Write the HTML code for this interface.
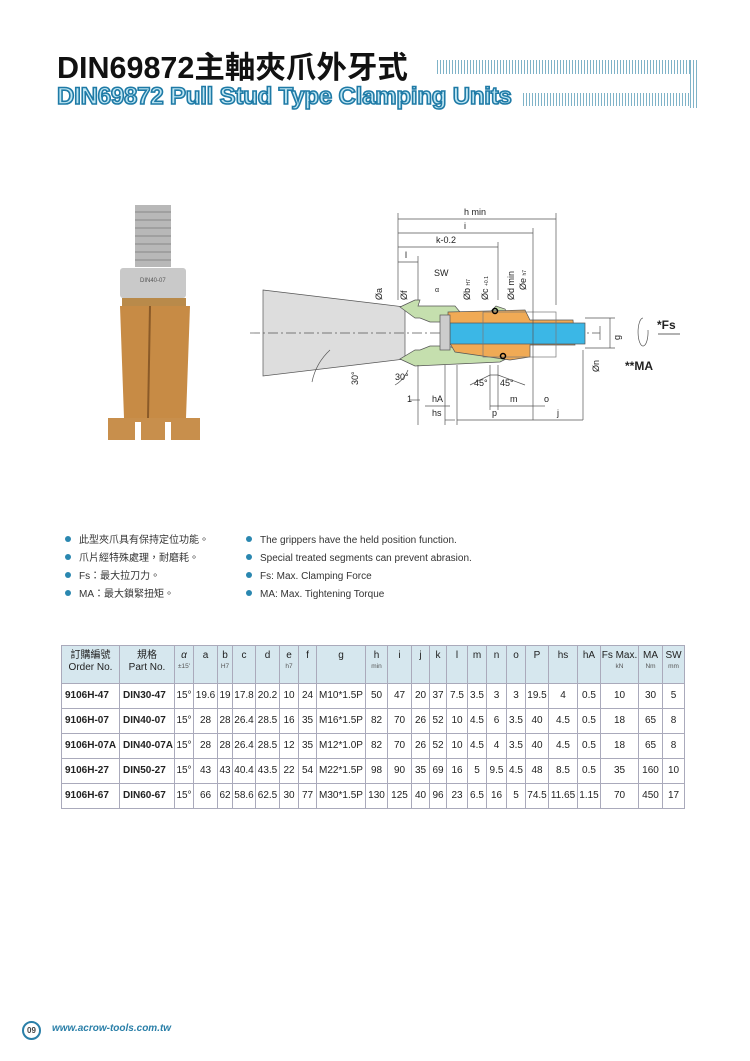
<!DOCTYPE html>
<html><head><meta charset="utf-8">
<style>
body{margin:0;width:750px;height:1061px;background:#fff;position:relative;font-family:"Liberation Sans","Noto Sans CJK TC",sans-serif;overflow:hidden}
.abs{position:absolute}
.t1{left:57px;top:43px;font-size:30.5px;font-weight:bold;color:#111;white-space:nowrap}
.t2{left:57px;top:83px;font-size:24px;font-weight:bold;color:#bfe6f3;-webkit-text-stroke:1.6px #1e7aa6;white-space:nowrap;letter-spacing:-0.2px}
.lines{background:repeating-linear-gradient(90deg,#7fb3c8 0 1px,transparent 1px 3px)}
.bul{font-size:10px;color:#333;white-space:nowrap;line-height:14px;height:14px}
.bul span{display:inline-block;width:6px;height:6px;border-radius:50%;background:#2a87b0;margin-right:8px;vertical-align:1px}
table{position:absolute;left:61px;top:645px;border-collapse:collapse;font-size:10px;color:#222;table-layout:fixed}
td{border:1px solid #aab;text-align:center;padding:0;height:24px;white-space:nowrap;line-height:12px}
tr.h td{background:#d6e7ee;height:33px;vertical-align:top;padding-top:4px;line-height:12px}
small{font-size:6.5px;color:#555;display:block;line-height:9px}
td.b{font-weight:bold;text-align:left;padding-left:3px}
</style></head><body>
<div class="abs t1">DIN69872主軸夾爪外牙式</div>
<div class="abs lines" style="left:437px;top:60px;width:255px;height:14px"></div>
<div class="abs lines" style="left:690px;top:60px;width:8px;height:48px"></div>
<div class="abs t2">DIN69872 Pull Stud Type Clamping Units</div>
<div class="abs lines" style="left:523px;top:93px;width:167px;height:13px"></div>

<svg class="abs" style="left:0;top:0" width="750" height="460">
 <rect x="135" y="205" width="36" height="62" fill="#b8b8b8"/>
 <g stroke="#888" stroke-width="1"><line x1="135" y1="212" x2="171" y2="212"/><line x1="135" y1="220" x2="171" y2="220"/><line x1="135" y1="228" x2="171" y2="228"/><line x1="135" y1="236" x2="171" y2="236"/><line x1="135" y1="244" x2="171" y2="244"/><line x1="135" y1="252" x2="171" y2="252"/><line x1="135" y1="260" x2="171" y2="260"/></g>
 <rect x="120" y="268" width="66" height="30" rx="3" fill="#c9c9c9"/>
 <text x="140" y="282" font-size="6" fill="#555" font-family="Liberation Sans">DIN40-07</text>
 <rect x="122" y="298" width="64" height="8" fill="#b98a4a"/>
 <path d="M120 306 H190 L186 418 H124 Z" fill="#c78b45"/>
 <path d="M150 306 L148 418" stroke="#8a5a28" stroke-width="2"/>
 <path d="M108 418 H200 V440 H108 Z" fill="#c88f4c"/>
 <rect x="135" y="422" width="6" height="18" fill="#fff"/><rect x="165" y="422" width="6" height="18" fill="#fff"/>
 <g font-family="Liberation Sans" font-size="9" fill="#222" stroke-width="0.7">
 <path d="M263 290 L405 307 L405 359 L263 376 Z" fill="#ddd" stroke="#555"/>
 <line x1="250" y1="333" x2="600" y2="333" stroke="#555" stroke-dasharray="10 3 2 3"/>
 <path d="M400 307 L415 300 L420 300 L418 306 L455 306 L460 312 L490 312 L496 306 L505 309 L510 318 L460 318 L448 322 L430 322 L420 318 L415 318 Z" fill="#c5dfae" stroke="#555"/>
 <path d="M400 359 L415 366 L500 362 L510 357 L505 350 L460 350 L448 346 L430 346 L420 350 L415 350 Z" fill="#c5dfae" stroke="#555"/>
 <path d="M448 312 L525 310 L530 320 L573 320 L575 345 L530 345 L530 357 L510 360 L455 352 L448 340 Z" fill="#f0aa55" stroke="#555"/>
 <rect x="450" y="323" width="135" height="21" fill="#3bb7e6" stroke="#555"/>
 <rect x="440" y="315" width="10" height="35" fill="#ccc" stroke="#555"/>
 <rect x="483" y="312" width="73" height="45" fill="none" stroke="#777"/>
 <circle cx="495" cy="311" r="2.5" fill="none" stroke="#000" stroke-width="1.5"/>
 <circle cx="503" cy="356" r="2.5" fill="none" stroke="#000" stroke-width="1.5"/>
 <g stroke="#555" fill="none">
  <line x1="398" y1="213" x2="398" y2="300"/><line x1="556" y1="213" x2="556" y2="305"/><line x1="533" y1="228" x2="533" y2="420"/><line x1="498" y1="242" x2="498" y2="300"/><line x1="418" y1="256" x2="418" y2="300"/>
  <line x1="398" y1="219" x2="556" y2="219"/><line x1="398" y1="233" x2="533" y2="233"/><line x1="398" y1="247" x2="498" y2="247"/><line x1="398" y1="262" x2="418" y2="262"/>
  <line x1="585" y1="318" x2="615" y2="318"/><line x1="585" y1="348" x2="615" y2="348"/><line x1="610" y1="318" x2="610" y2="348"/>
  <line x1="600" y1="326" x2="600" y2="340"/><line x1="583" y1="350" x2="583" y2="420"/>
  <line x1="410" y1="400" x2="420" y2="400"/><line x1="425" y1="406" x2="450" y2="406"/><line x1="490" y1="406" x2="533" y2="406"/><line x1="533" y1="406" x2="545" y2="406"/>
  <line x1="445" y1="420" x2="455" y2="420"/><line x1="457" y1="420" x2="533" y2="420"/><line x1="533" y1="420" x2="583" y2="420"/>
  <line x1="418" y1="365" x2="418" y2="425"/><line x1="445" y1="365" x2="445" y2="425"/><line x1="457" y1="365" x2="457" y2="425"/><line x1="490" y1="365" x2="490" y2="410"/><line x1="498" y1="365" x2="498" y2="410"/>
  <path d="M470 385 L490 375 L498 375 L525 385"/>
  <path d="M312 382 A60 60 0 0 1 330 350"/><path d="M395 385 A30 30 0 0 0 408 370"/>
  <path d="M643 318 A5 14 0 1 0 648 330"/>
 </g>
 <line x1="658" y1="334" x2="680" y2="334" stroke="#333"/>
 <text x="464" y="215">h min</text><text x="464" y="229">i</text><text x="436" y="243">k-0.2</text><text x="405" y="258">l</text>
 <text x="434" y="276">SW</text><text x="435" y="292" font-size="7">α</text>
 <g transform="rotate(-90)"><text x="-300" y="382">Øa</text><text x="-300" y="407">Øf</text><text x="-300" y="470">Øb <tspan font-size="5">H7</tspan></text><text x="-300" y="488">Øc <tspan font-size="5">+0.1</tspan></text><text x="-300" y="514">Ød min</text><text x="-290" y="526">Øe <tspan font-size="5">h7</tspan></text><text x="-340" y="620">g</text><text x="-372" y="599">Øn</text><text x="-385" y="358">30°</text></g>
 <text x="395" y="380">30°</text><text x="474" y="386">45°</text><text x="500" y="386">45°</text>
 <text x="407" y="402">1</text><text x="432" y="402">hA</text><text x="510" y="402">m</text><text x="544" y="402">o</text>
 <text x="432" y="416">hs</text><text x="492" y="416">p</text><text x="557" y="416">j</text>
 <text x="657" y="329" font-size="12" font-weight="bold">*Fs</text>
 <text x="625" y="370" font-size="12" font-weight="bold">**MA</text>
 </g>
</svg>

<div class="abs bul" style="left:65px;top:534px"><span></span>此型夾爪具有保持定位功能。</div>
<div class="abs bul" style="left:65px;top:552px"><span></span>爪片經特殊處理，耐磨耗。</div>
<div class="abs bul" style="left:65px;top:570px"><span></span>Fs：最大拉刀力。</div>
<div class="abs bul" style="left:65px;top:588px"><span></span>MA：最大鎖緊扭矩。</div>
<div class="abs bul" style="left:246px;top:534px"><span></span>The grippers have the held position function.</div>
<div class="abs bul" style="left:246px;top:552px"><span></span>Special treated segments can prevent abrasion.</div>
<div class="abs bul" style="left:246px;top:570px"><span></span>Fs: Max. Clamping Force</div>
<div class="abs bul" style="left:246px;top:588px"><span></span>MA: Max. Tightening Torque</div>

<table>
<colgroup><col style="width:58px"><col style="width:55px"><col style="width:19px"><col style="width:24px"><col style="width:15px"><col style="width:23px"><col style="width:24px"><col style="width:19px"><col style="width:18px"><col style="width:49px"><col style="width:22px"><col style="width:24px"><col style="width:18px"><col style="width:17px"><col style="width:21px"><col style="width:19px"><col style="width:20px"><col style="width:19px"><col style="width:23px"><col style="width:29px"><col style="width:23px"><col style="width:38px"><col style="width:24px"><col style="width:22px"></colgroup>
<tr class="h"><td>訂購編號<br>Order No.</td><td>規格<br>Part No.</td><td><i>α</i><small>±15'</small></td><td>a</td><td>b<small>H7</small></td><td>c</td><td>d</td><td>e<small>h7</small></td><td>f</td><td>g</td><td>h<small>min</small></td><td>i</td><td>j</td><td>k</td><td>l</td><td>m</td><td>n</td><td>o</td><td>P</td><td>hs</td><td>hA</td><td>Fs Max.<small>kN</small></td><td>MA<small>Nm</small></td><td>SW<small>mm</small></td></tr>
<tr><td class="b">9106H-47</td><td class="b">DIN30-47</td><td>15°</td><td>19.6</td><td>19</td><td>17.8</td><td>20.2</td><td>10</td><td>24</td><td>M10*1.5P</td><td>50</td><td>47</td><td>20</td><td>37</td><td>7.5</td><td>3.5</td><td>3</td><td>3</td><td>19.5</td><td>4</td><td>0.5</td><td>10</td><td>30</td><td>5</td></tr>
<tr><td class="b">9106H-07</td><td class="b">DIN40-07</td><td>15°</td><td>28</td><td>28</td><td>26.4</td><td>28.5</td><td>16</td><td>35</td><td>M16*1.5P</td><td>82</td><td>70</td><td>26</td><td>52</td><td>10</td><td>4.5</td><td>6</td><td>3.5</td><td>40</td><td>4.5</td><td>0.5</td><td>18</td><td>65</td><td>8</td></tr>
<tr><td class="b">9106H-07A</td><td class="b">DIN40-07A</td><td>15°</td><td>28</td><td>28</td><td>26.4</td><td>28.5</td><td>12</td><td>35</td><td>M12*1.0P</td><td>82</td><td>70</td><td>26</td><td>52</td><td>10</td><td>4.5</td><td>4</td><td>3.5</td><td>40</td><td>4.5</td><td>0.5</td><td>18</td><td>65</td><td>8</td></tr>
<tr><td class="b">9106H-27</td><td class="b">DIN50-27</td><td>15°</td><td>43</td><td>43</td><td>40.4</td><td>43.5</td><td>22</td><td>54</td><td>M22*1.5P</td><td>98</td><td>90</td><td>35</td><td>69</td><td>16</td><td>5</td><td>9.5</td><td>4.5</td><td>48</td><td>8.5</td><td>0.5</td><td>35</td><td>160</td><td>10</td></tr>
<tr><td class="b">9106H-67</td><td class="b">DIN60-67</td><td>15°</td><td>66</td><td>62</td><td>58.6</td><td>62.5</td><td>30</td><td>77</td><td>M30*1.5P</td><td>130</td><td>125</td><td>40</td><td>96</td><td>23</td><td>6.5</td><td>16</td><td>5</td><td>74.5</td><td>11.65</td><td>1.15</td><td>70</td><td>450</td><td>17</td></tr>
</table>

<div class="abs" style="left:22px;top:1021px;width:15px;height:15px;border:2px solid #2a7fa8;border-radius:50%;font-size:8px;font-weight:bold;color:#444;text-align:center;line-height:15px">09</div>
<div class="abs" style="left:52px;top:1023px;font-size:10px;font-weight:bold;font-style:italic;color:#2a7fa8">www.acrow-tools.com.tw</div>
</body></html>
